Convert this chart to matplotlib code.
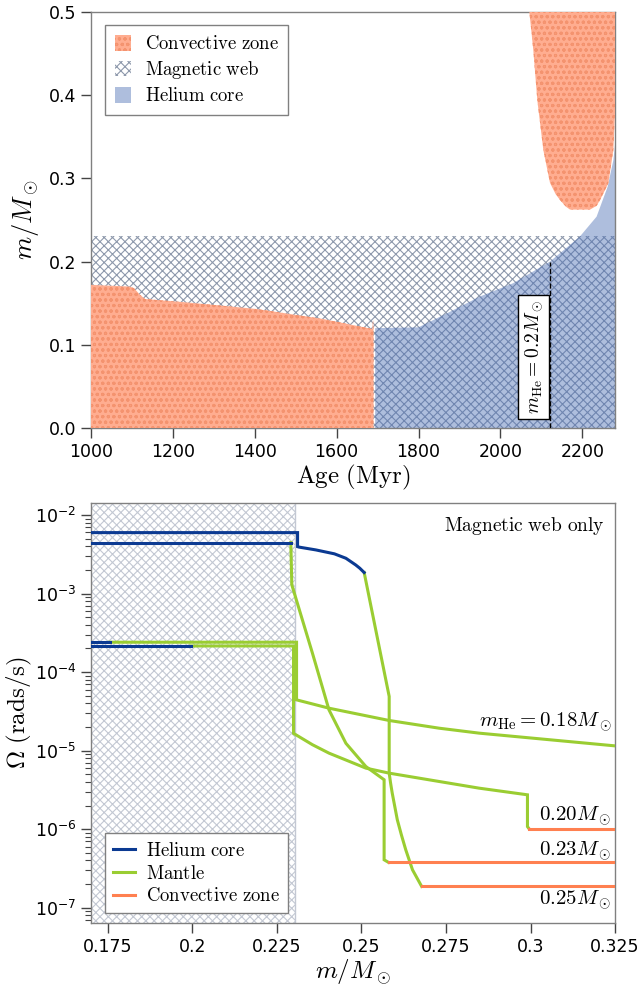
import numpy as np
import matplotlib.pyplot as plt
from matplotlib.patches import Patch
from matplotlib.lines import Line2D
from matplotlib.ticker import LogLocator, NullFormatter

plt.rcParams['hatch.linewidth'] = 0.8

# ---------------- top panel data (age in Myr, mass in Msun) ----------------
conv_age = [1000, 1095, 1105, 1120, 1132, 1242, 1405, 1567, 1687, 1689, 1690]
conv_m = [0.172, 0.170, 0.168, 0.160, 0.155, 0.1506, 0.143, 0.131, 0.119, 0.130, 0.120]

blob_age = [2070.7, 2075, 2080.4, 2090.2, 2104.9, 2121.2, 2135, 2145.6, 2160, 2170, 2219,
            2235, 2243.4, 2263.6, 2275.9, 2280]
blob_low = [0.5, 0.48, 0.454, 0.394, 0.334, 0.2945, 0.281, 0.274, 0.266, 0.2625, 0.2625,
            0.267, 0.274, 0.294, 0.334, 0.38]

core_age = [1694, 1800, 1870, 1950, 2031, 2121, 2194, 2235, 2262, 2276, 2280]
core_m = [0.12, 0.121, 0.138, 0.158, 0.174, 0.2, 0.23, 0.254, 0.29, 0.322, 0.34]

web_age = [1000, 2280]
web_top = 0.231
age_mhe02 = 2122

# ---------------- bottom panel data (mass coordinate, Omega in rad/s) ----------------
# m_He = 0.25
core25_x = [0.17, 0.2311, 0.2311, 0.2315, 0.2365, 0.2420, 0.2454, 0.2483, 0.2495, 0.2508]
core25_y = [5.96e-3, 5.96e-3, 3.95e-3, 3.9e-3, 3.59e-3, 3.2e-3, 2.81e-3, 2.31e-3, 2.1e-3, 1.85e-3]
mant25_x = [0.2508, 0.2582, 0.2582, 0.2586, 0.2591, 0.2606, 0.2618, 0.2631, 0.2651, 0.2678]
mant25_y = [1.85e-3, 4.9e-5, 5.18e-6, 3.9e-6, 2.88e-6, 1.32e-6, 8.5e-7, 5.47e-7, 3.04e-7, 1.87e-7]
conv25_x = [0.2678, 0.325]
conv25_y = [1.87e-7, 1.87e-7]

# m_He = 0.23
core23_x = [0.17, 0.2291]
core23_y = [4.45e-3, 4.45e-3]
mant23_x = [0.2291, 0.2294, 0.2355, 0.2404, 0.2454, 0.2513, 0.2567, 0.2567, 0.2580]
mant23_y = [4.45e-3, 1.29e-3, 1.74e-4, 3.3e-5, 1.24e-5, 6.28e-6, 4.26e-6, 4.08e-7, 3.78e-7]
conv23_x = [0.2580, 0.325]
conv23_y = [3.78e-7, 3.78e-7]

# m_He = 0.20
core20_x = [0.17, 0.1995]
core20_y = [2.15e-4, 2.15e-4]
mant20_x = [0.1995, 0.2299, 0.2299, 0.2355, 0.2404, 0.2513, 0.2582, 0.2848, 0.2991, 0.2991, 0.2996]
mant20_y = [2.15e-4, 2.15e-4, 1.66e-5, 1.19e-5, 9.29e-6, 5.99e-6, 5.17e-6, 3.33e-6, 2.74e-6, 1.08e-6, 1.01e-6]
conv20_x = [0.2996, 0.325]
conv20_y = [1.01e-6, 1.01e-6]

# m_He = 0.18
core18_x = [0.17, 0.1755]
core18_y = [2.4e-4, 2.4e-4]
mant18_x = [0.1755, 0.2308, 0.2308, 0.2404, 0.2582, 0.2730, 0.2848, 0.325]
mant18_y = [2.4e-4, 2.4e-4, 4.43e-5, 3.47e-5, 2.42e-5, 1.93e-5, 1.67e-5, 1.15e-5]

web_edge = 0.2304

label_text = [r'$m_{\rm He} = 0.18M_\odot$', r'$0.20M_\odot$', r'$0.23M_\odot$', r'$0.25M_\odot$']
label_y = [2.3e-5, 1.45e-6, 5.3e-7, 1.26e-7]

# ---------------- styles ----------------
orange_face = '#FFAD90'
orange_dots = '#F4936F'
blue_face = '#4C6FB5'
web_col = '#8E99AC'
web_col2 = '#C3C8D3'
c_core = '#0B3A92'
c_mant = '#9ACD32'
c_conv = '#FF8050'
spine_col = '#808080'
cm = dict(math_fontfamily='cm')

fig = plt.figure(figsize=(6.44, 9.88), dpi=100)
ax1 = fig.add_axes([0.1413, 0.5668, 0.8137, 0.4211])
ax2 = fig.add_axes([0.1413, 0.0658, 0.8137, 0.4251])

for ax in (ax1, ax2):
    for s in ax.spines.values():
        s.set_color(spine_col)
        s.set_linewidth(1.0)
    ax.tick_params(which='major', direction='out', length=7, width=1, color='#444444',
                   labelsize=12.5, top=False, right=False)
    ax.tick_params(which='minor', direction='out', length=4, width=0.8, color='#444444')

# ---- top panel ----
ax1.fill_between(web_age, 0, web_top, facecolor='none', edgecolor=web_col, hatch='xxxx',
                 linewidth=0, zorder=1)
ax1.fill_between(core_age, 0, core_m, facecolor=blue_face, alpha=0.45, linewidth=0, zorder=2)
ax1.fill_between(conv_age, 0, conv_m, facecolor=orange_face, edgecolor=orange_dots,
                 hatch='ooo', linewidth=0, zorder=3)
ax1.fill_between(blob_age, blob_low, 0.5, facecolor=orange_face, edgecolor=orange_dots,
                 hatch='ooo', linewidth=0, zorder=3)
ax1.plot([age_mhe02, age_mhe02], [0, 0.2], color='black', ls='--', lw=1.0, zorder=4)
ax1.text(2082, 0.0857, r'$m_{\rm He} = 0.2M_\odot$', rotation=90, ha='center', va='center',
         fontsize=14, zorder=5, bbox=dict(boxstyle='square,pad=0.25', facecolor='white',
                                          edgecolor='black', linewidth=1), **cm)

ax1.set_xlim(1000, 2280)
ax1.set_ylim(0, 0.5)
ax1.set_xticks([1000, 1200, 1400, 1600, 1800, 2000, 2200])
ax1.set_yticks([0.0, 0.1, 0.2, 0.3, 0.4, 0.5])
ax1.set_xlabel(r'$\mathrm{Age\ (Myr)}$', fontsize=18, labelpad=2, **cm)
ax1.set_ylabel(r'$m/M_\odot$', fontsize=19, labelpad=6, **cm)

h1 = [Patch(facecolor=orange_face, edgecolor=orange_dots, hatch='ooo', linewidth=0),
      Patch(facecolor='none', edgecolor=web_col, hatch='xxxx', linewidth=0),
      Patch(facecolor=blue_face, alpha=0.45, linewidth=0)]
l1 = [r'$\mathrm{Convective\ zone}$', r'$\mathrm{Magnetic\ web}$', r'$\mathrm{Helium\ core}$']
leg1 = ax1.legend(h1, l1, loc='upper left', bbox_to_anchor=(0.027, 0.969), borderaxespad=0,
                  fancybox=False, edgecolor=spine_col, framealpha=1, handlelength=0.9,
                  handleheight=0.9, labelspacing=0.3, handletextpad=0.7, borderpad=0.5,
                  prop=dict(size=13.5, math_fontfamily='cm'))
leg1.get_frame().set_linewidth(1.0)

# ---- bottom panel ----
ax2.fill_between([0.17, web_edge], 1e-9, 1, facecolor='none', edgecolor=web_col2, hatch='xxxx',
                 linewidth=0, zorder=1)
ax2.axvline(web_edge, color=web_col2, lw=1.0, zorder=1)

lw = 2.2
for cx, cy, mx, my in [(core25_x, core25_y, mant25_x, mant25_y),
                       (core23_x, core23_y, mant23_x, mant23_y),
                       (core20_x, core20_y, mant20_x, mant20_y),
                       (core18_x, core18_y, mant18_x, mant18_y)]:
    ax2.plot(mx, my, color=c_mant, lw=lw, zorder=3, solid_joinstyle='miter')
    ax2.plot(cx, cy, color=c_core, lw=lw, zorder=4, solid_joinstyle='miter')
for vx, vy in [(conv25_x, conv25_y), (conv23_x, conv23_y), (conv20_x, conv20_y)]:
    ax2.plot(vx, vy, color=c_conv, lw=lw, zorder=3)

for t, y in zip(label_text, label_y):
    ax2.text(0.324, y, t, ha='right', va='center', fontsize=15, **cm)
ax2.text(0.981, 0.971, r'$\mathrm{Magnetic\ web\ only}$', transform=ax2.transAxes,
         ha='right', va='top', fontsize=14, **cm)

ax2.set_yscale('log')
ax2.set_xlim(0.17, 0.325)
ax2.set_ylim(6.4e-8, 1.42e-2)
ax2.set_yticks([1e-7, 1e-6, 1e-5, 1e-4, 1e-3, 1e-2])
ax2.yaxis.set_minor_locator(LogLocator(base=10, subs=np.arange(2, 10), numticks=20))
ax2.yaxis.set_minor_formatter(NullFormatter())
ax2.set_xticks([0.175, 0.2, 0.225, 0.25, 0.275, 0.3, 0.325])
ax2.set_xticklabels(['0.175', '0.2', '0.225', '0.25', '0.275', '0.3', '0.325'])
ax2.set_xlabel(r'$m/M_\odot$', fontsize=18, labelpad=2, **cm)
ax2.set_ylabel(r'$\Omega\ \mathrm{(rads/s)}$', fontsize=18, labelpad=1, **cm)

h2 = [Line2D([], [], color=c_core, lw=lw), Line2D([], [], color=c_mant, lw=lw),
      Line2D([], [], color=c_conv, lw=lw)]
l2 = [r'$\mathrm{Helium\ core}$', r'$\mathrm{Mantle}$', r'$\mathrm{Convective\ zone}$']
leg2 = ax2.legend(h2, l2, loc='lower left', bbox_to_anchor=(0.027, 0.024), borderaxespad=0,
                  fancybox=False, edgecolor=spine_col, framealpha=1, handlelength=1.2,
                  labelspacing=0.2, handletextpad=0.6, borderpad=0.4,
                  prop=dict(size=13.5, math_fontfamily='cm'))
leg2.get_frame().set_linewidth(1.0)

fig.savefig('out.png', dpi=100)
